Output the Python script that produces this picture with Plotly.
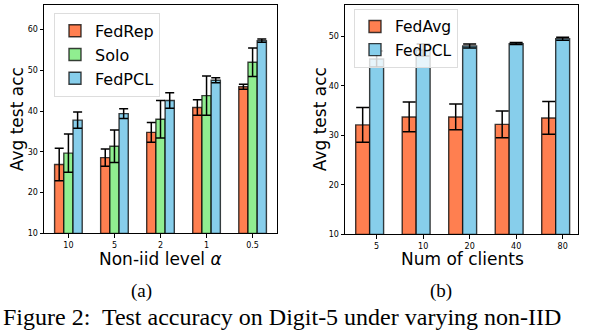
"""Script to create the Digit-5 test accuracy bar charts"""
import plotly.graph_objects as go

# (a) non-iid level
ALPHA_LABELS = ["10", "5", "2", "1", "0.5"]
FEDREP_ACC = [26.9, 28.6, 34.8, 40.9, 46.0]
FEDREP_ERR = [4.0, 2.1, 2.4, 1.9, 0.6]
SOLO_ACC = [29.7, 31.4, 38.0, 43.8, 52.0]
SOLO_ERR = [4.7, 4.0, 4.6, 4.8, 3.5]
FEDPCL_A_ACC = [37.8, 39.4, 42.6, 47.6, 57.3]
FEDPCL_A_ERR = [2.0, 1.2, 1.9, 0.6, 0.4]

# (b) number of clients
CLIENT_LABELS = ["5", "10", "20", "40", "80"]
FEDAVG_ACC = [32.1, 33.7, 33.7, 32.2, 33.5]
FEDAVG_ERR = [3.5, 3.0, 2.6, 2.7, 3.3]
FEDPCL_B_ACC = [45.4, 47.2, 48.0, 48.5, 49.5]
FEDPCL_B_ERR = [1.6, 1.2, 0.4, 0.2, 0.3]

CORAL = "#FF7F50"
GREEN = "#90EE90"
BLUE = "#87CEEB"

W, H = 604, 334


def px_x(x):
    return x / W


def px_y(y):
    return 1 - y / H


def bar(name, vals, errs, color, offset, width, cap, xaxis, yaxis, legend):
    # bars start at the axis floor (10), so heights are value - 10
    return go.Bar(
        x=list(range(len(vals))),
        y=[v - 10 for v in vals],
        base=10,
        name=name,
        offset=offset,
        width=width,
        marker=dict(color=color, line=dict(color="rgba(0,0,0,0.75)", width=1.4)),
        error_y=dict(type="data", array=errs, color="black", thickness=1.5, width=cap),
        xaxis=xaxis,
        yaxis=yaxis,
        legend=legend,
    )


fig = go.Figure()
fig.add_trace(bar("FedRep", FEDREP_ACC, FEDREP_ERR, CORAL, -0.3, 0.2, 4.5, "x", "y", "legend"))
fig.add_trace(bar("Solo", SOLO_ACC, SOLO_ERR, GREEN, -0.1, 0.2, 4.5, "x", "y", "legend"))
fig.add_trace(bar("FedPCL", FEDPCL_A_ACC, FEDPCL_A_ERR, BLUE, 0.1, 0.2, 4.5, "x", "y", "legend"))
fig.add_trace(bar("FedAvg", FEDAVG_ACC, FEDAVG_ERR, CORAL, -0.45, 0.3, 6.5, "x2", "y2", "legend2"))
fig.add_trace(bar("FedPCL", FEDPCL_B_ACC, FEDPCL_B_ERR, BLUE, -0.15, 0.3, 6.5, "x2", "y2", "legend2"))

axis_style = dict(
    showline=True, mirror=True, linecolor="black", linewidth=1,
    ticks="outside", ticklen=3.5, tickwidth=1, tickcolor="black",
    showgrid=False, zeroline=False,
    tickfont=dict(family="DejaVu Sans", size=8, color="black"),
)

fig.update_layout(
    width=W, height=H,
    margin=dict(l=0, r=0, t=0, b=0),
    paper_bgcolor="white", plot_bgcolor="white",
    barmode="overlay",
    font=dict(family="DejaVu Sans", color="black"),
    xaxis=dict(domain=[px_x(44), px_x(277)], range=[-0.53, 4.53], tickvals=list(range(5)),
               ticktext=ALPHA_LABELS, anchor="y", **axis_style),
    yaxis=dict(domain=[px_y(237), px_y(5)], range=[10, 66.06], tickvals=[10, 20, 30, 40, 50, 60],
               anchor="x", **axis_style),
    xaxis2=dict(domain=[px_x(345), px_x(578)], range=[-0.68, 4.33], tickvals=list(range(5)),
                ticktext=CLIENT_LABELS, anchor="y2", **axis_style),
    yaxis2=dict(domain=[px_y(238), px_y(5)], range=[10, 56.3], tickvals=[10, 20, 30, 40, 50],
                anchor="x2", **axis_style),
    legend=dict(x=px_x(54), y=px_y(13), xanchor="left", yanchor="top",
                bgcolor="rgba(255,255,255,0.8)", bordercolor="#dddddd", borderwidth=1,
                font=dict(size=16), tracegroupgap=0),
    legend2=dict(x=px_x(354), y=px_y(9), xanchor="left", yanchor="top",
                 bgcolor="rgba(255,255,255,0.8)", bordercolor="#dddddd", borderwidth=1,
                 font=dict(size=15.5), tracegroupgap=0),
)

annotations = [
    dict(text="Avg test acc", x=px_x(17), y=px_y(121), textangle=-90, font=dict(size=17)),
    dict(text="Avg test acc", x=px_x(320), y=px_y(121), textangle=-90, font=dict(size=17)),
    dict(text="Non-iid level <i>α</i>", x=px_x(161), y=px_y(263), font=dict(size=17)),
    dict(text="Num of clients", x=px_x(462), y=px_y(263), font=dict(size=17)),
    dict(text="(a)", x=px_x(141), y=px_y(295), font=dict(family="Liberation Serif", size=19)),
    dict(text="(b)", x=px_x(441), y=px_y(295), font=dict(family="Liberation Serif", size=19)),
]
for a in annotations:
    fig.add_annotation(xref="paper", yref="paper", showarrow=False,
                       xanchor="center", yanchor="middle", **a)

fig.add_annotation(
    text="Figure 2:  Test accuracy on Digit-5 under varying non-IID",
    xref="paper", yref="paper", x=px_x(1), y=px_y(322), xanchor="left", yanchor="middle",
    showarrow=False, font=dict(family="Liberation Serif", size=24),
)

# the page body has an 8px default margin; drop it so the figure sits at 0,0
fig.write_html(
    "out.html",
    config={"displayModeBar": False},
    post_script="document.body.style.margin='0';",
)
